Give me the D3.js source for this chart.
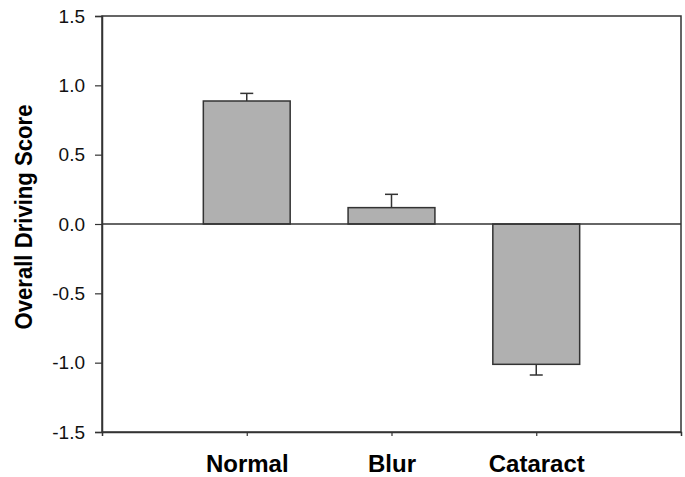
<!DOCTYPE html>
<html>
<head>
<meta charset="utf-8">
<script src="https://cdn.jsdelivr.net/npm/d3@7"></script>
<style>
  body { margin: 0; background: #fff; }
  svg { display: block; font-family: Arial, "Liberation Sans", sans-serif; }
</style>
</head>
<body>
<svg id="chart" width="685" height="477"></svg>
<script>
// data
const categories = ["Normal", "Blur", "Cataract"];
const scores = [0.887, 0.118, -1.012];
const errors = [0.055, 0.096, 0.077];
const yTicks = [-1.5, -1.0, -0.5, 0.0, 0.5, 1.0, 1.5];

const W = 685, H = 477;
const margin = { top: 16, right: 4, bottom: 45, left: 102 };
const innerW = W - margin.left - margin.right;
const innerH = H - margin.top - margin.bottom;

const svg = d3.select("#chart");
const g = svg.append("g").attr("transform", `translate(${margin.left}, ${margin.top})`);

const x = d3.scaleLinear().domain([0, categories.length + 1]).range([0, innerW]);
const y = d3.scaleLinear().domain([-1.5, 1.5]).range([innerH, 0]);
const barW = x(0.6) - x(0);
const ink = "#333";

// frame (top + right)
g.append("rect")
  .attr("x", 0).attr("y", 0)
  .attr("width", innerW).attr("height", innerH)
  .attr("fill", "none")
  .attr("stroke", ink)
  .attr("stroke-width", 1.5);

const rows = categories.map((c, i) => ({ c, i: i + 1, v: scores[i], e: errors[i] }));

// error bars (one-sided, away from zero)
const eb = g.append("g").attr("class", "errors");
rows.forEach(d => {
  const end = d.v >= 0 ? d.v + d.e : d.v - d.e;
  eb.append("line")
    .attr("x1", x(d.i)).attr("x2", x(d.i))
    .attr("y1", y(d.v)).attr("y2", y(end))
    .attr("stroke", ink).attr("stroke-width", 1.5);
  eb.append("line")
    .attr("x1", x(d.i) - 6.5).attr("x2", x(d.i) + 6.5)
    .attr("y1", y(end)).attr("y2", y(end))
    .attr("stroke", ink).attr("stroke-width", 1.5);
});

// bars
g.append("g").selectAll("rect")
  .data(rows)
  .enter().append("rect")
  .attr("x", d => x(d.i) - barW / 2)
  .attr("width", barW)
  .attr("y", d => y(Math.max(0, d.v)))
  .attr("height", d => Math.abs(y(d.v) - y(0)))
  .attr("fill", "#b0b0b0")
  .attr("stroke", ink)
  .attr("stroke-width", 1.5);

// zero line
g.append("line")
  .attr("x1", 0).attr("x2", innerW)
  .attr("y1", y(0)).attr("y2", y(0))
  .attr("stroke", ink).attr("stroke-width", 1.5);

// y axis
const yAxis = g.append("g")
  .call(d3.axisLeft(y).tickValues(yTicks).tickSize(7).tickPadding(10).tickFormat(d => d.toFixed(1)));
yAxis.select(".domain").attr("stroke", ink).attr("stroke-width", 1.5);
yAxis.selectAll(".tick line").attr("stroke", ink).attr("stroke-width", 1.2);
yAxis.selectAll("text")
  .attr("fill", "#111")
  .style("font-size", "19px")
  .style("font-family", "Arial, 'Liberation Sans', sans-serif");

// x axis
const xAxis = g.append("g")
  .attr("transform", `translate(0, ${innerH})`)
  .call(d3.axisBottom(x).tickValues(d3.range(1, categories.length + 1))
    .tickSize(4).tickPadding(19).tickFormat(d => categories[d - 1]));
xAxis.select(".domain").attr("stroke", ink).attr("stroke-width", 1.5);
xAxis.selectAll(".tick line").attr("stroke", ink).attr("stroke-width", 1.2);
xAxis.selectAll("text")
  .attr("fill", "#000")
  .style("font-size", "24px")
  .style("font-weight", "bold")
  .style("font-family", "Arial, 'Liberation Sans', sans-serif");

// y axis title
svg.append("text")
  .attr("transform", `translate(32, ${margin.top + y(0) - 7}) rotate(-90)`)
  .attr("text-anchor", "middle")
  .attr("textLength", 225)
  .attr("lengthAdjust", "spacingAndGlyphs")
  .style("font-size", "24px")
  .style("font-weight", "bold")
  .attr("fill", "#000")
  .text("Overall Driving Score");
</script>
</body>
</html>
